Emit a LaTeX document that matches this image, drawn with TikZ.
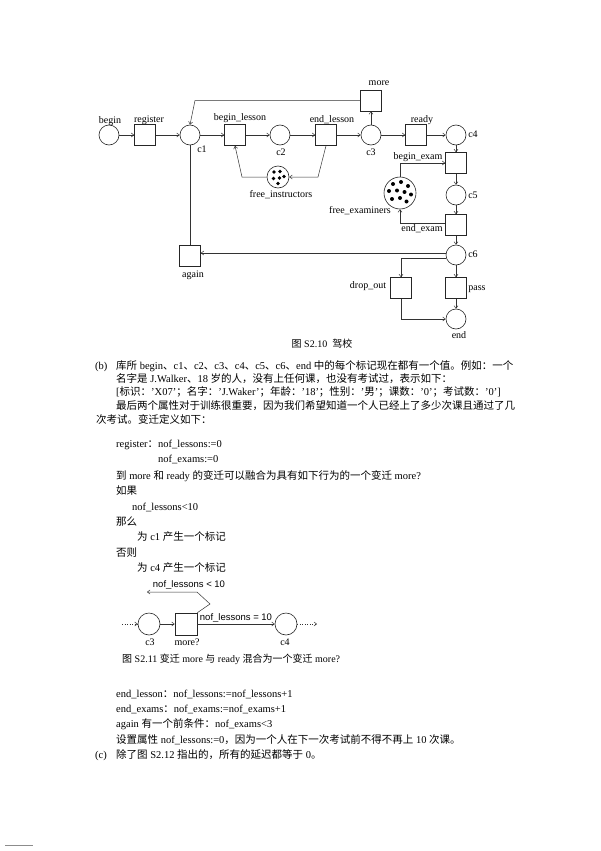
\documentclass[tikz,border=0pt]{standalone}
\usepackage{fontspec}
\setmainfont{Liberation Serif}
\setsansfont{Liberation Sans}
\newfontfamily\cjk{Noto Sans CJK SC}
\usetikzlibrary{arrows.meta,calc}
% Chinese runs are switched to the CJK family
\XeTeXinterchartokenstate=1
\newXeTeXintercharclass\cjkclass
\newcount\cjkcode
\def\cjkrange#1#2{\cjkcode=#1 \loop\XeTeXcharclass\cjkcode=\cjkclass \ifnum\cjkcode<#2 \advance\cjkcode by 1 \repeat}
\cjkrange{"3000}{"303F}
\cjkrange{"4E00}{"9FFF}
\cjkrange{"FF00}{"FFEF}
\XeTeXinterchartoks 0 \cjkclass = {\begingroup\cjk}
\XeTeXinterchartoks 4095 \cjkclass = {\begingroup\cjk}
\XeTeXinterchartoks \cjkclass 0 = {\endgroup}
\XeTeXinterchartoks \cjkclass 4095 = {\endgroup}
\begin{document}
\begin{tikzpicture}[x=1pt,y=-1pt,every node/.style={font=\fontsize{10}{12}\selectfont},
  place/.style={circle,draw=black!85,line width=.6pt,minimum size=20pt,inner sep=0pt},
  trans/.style={draw=black!85,line width=.6pt,minimum size=21pt,inner sep=0pt},
  arc/.style={-{Straight Barb[length=2.6pt,width=4pt]},line width=.5pt,draw=black!80},
  tok/.style={circle,fill=black,inner sep=0pt,minimum size=3.6pt},
  body/.style={anchor=west,inner sep=0pt,text height=9pt,text depth=2.5pt,font=\fontsize{10.5}{13}\selectfont},
  note/.style={font=\sffamily\fontsize{9.5}{11}\selectfont}]
  \path[fill=white] (0,0) rectangle (600,851);
  \useasboundingbox (0,0) rectangle (600,851);
  % Fig. S2.10
  \node[place] (begin) at (109,135) {}; \node[trans] (register) at (145,135) {};
  \node[place] (c1) at (190,135) {}; \node[trans] (begin_lesson) at (235,135) {};
  \node[place] (c2) at (280,135) {}; \node[trans] (end_lesson) at (326,135) {};
  \node[place] (c3) at (371,135) {}; \node[trans] (more) at (371,100.5) {};
  \node[trans] (ready) at (416,135) {}; \node[place] (c4) at (456,135) {};
  \node[trans] (begin_exam) at (456,163) {}; \node[place] (c5) at (456,195) {};
  \node[trans] (end_exam) at (456,225) {}; \node[place] (c6) at (456,255) {};
  \node[trans] (drop_out) at (401,288) {}; \node[trans] (pass) at (456,288) {};
  \node[place] (end) at (456,319) {}; \node[trans] (again) at (190,256) {};
  \node[place,minimum size=22pt] (free_instructors) at (278,177) {};
  \node[place,minimum size=32pt] (free_examiners) at (400,193) {};
  \foreach \dx/\dy in {-4/-5,2/-5.5,6/-.5,-4.5/1.5,1.5/1,0/6.5}
    \node[tok] at ($(free_instructors)+(\dx,\dy)$) {};
  \foreach \dx/\dy in {-7/-9,1/-11,8/-7,-11/-2,-3/-2.5,4.5/-1,11/1.5,-8/6,0/5,6.5/8.5}
    \node[tok,minimum size=4pt] at ($(free_examiners)+(\dx,\dy)$) {};
  \node (l_begin) at (110,121) {begin}; \node (l_register) at (149,120) {register};
  \node (l_c1) at (202,149) {c1}; \node (l_begin_lesson) at (240,118) {begin\_lesson};
  \node (l_c2) at (281,152) {c2}; \node (l_end_lesson) at (332,120) {end\_lesson};
  \node (l_c3) at (371,152) {c3}; \node (l_more) at (379,83) {more};
  \node (l_ready) at (422,120) {ready}; \node (l_c4) at (473,134) {c4};
  \node (l_begin_exam) at (418,157) {begin\_exam}; \node (l_c5) at (473,195) {c5};
  \node (l_free_instructors) at (281,195) {free\_instructors};
  \node (l_free_examiners) at (360,211) {free\_examiners};
  \node (l_end_exam) at (422,229) {end\_exam}; \node (l_c6) at (473,254) {c6};
  \node (l_again) at (193,275) {again}; \node (l_drop_out) at (368,286) {drop\_out};
  \node (l_pass) at (477,289) {pass}; \node (l_end) at (459,335) {end};
  \coordinate (mc) at (195,100.5);
  \coordinate (fi_r) at (318,177); \coordinate (fi_l) at (242,177);
  \draw[arc] (begin)--(register); \draw[arc] (register)--(c1);
  \draw[arc] (c1)--(begin_lesson); \draw[arc] (begin_lesson)--(c2);
  \draw[arc] (c2)--(end_lesson); \draw[arc] (end_lesson)--(c3);
  \draw[arc] (c3)--(ready); \draw[arc] (ready)--(c4); \draw[arc] (c3)--(more);
  \draw[arc] (more.west)--(mc)--(c1.north);
  \draw[arc] (end_lesson.south)--(fi_r)--(free_instructors.east);
  \draw[arc] (free_instructors.west)--(fi_l)--(begin_lesson.south);
  \draw[arc] (c4)--(begin_exam); \draw[arc] (begin_exam)--(c5);
  \draw[arc] (c5)--(end_exam); \draw[arc] (end_exam)--(c6);
  \draw[arc] (free_examiners.north) |- (begin_exam.west);
  \draw[arc] ([yshift=2pt]end_exam.west) -| (free_examiners.south);
  \draw[arc] ([yshift=2pt]c6.west)--([yshift=2pt]c6.west -| again.east);
  \draw[line width=.5pt,black!80] (again)--(c1);
  \draw[arc] ([yshift=-3pt]c6.west) -| (drop_out.north);
  \draw[arc] (drop_out.south) |- (end.west);
  \draw[arc] (c6)--(pass); \draw[arc] (pass)--(end);
  \node (cap10) at (322,344) {图 S2.10\ \ 驾校};
  % text (b)
  \node[body] (tb) at (95,366) {(b)};
  \node[body] (t1) at (116,366) {库所 begin、c1、c2、c3、c4、c5、c6、end 中的每个标记现在都有一个值。例如：一个};
  \node[body] (t2) at (116,379) {名字是 J.Walker、18 岁的人，没有上任何课，也没有考试过，表示如下：};
  \node[body] (t3) at (116,392) {[标识：'X07'；名字：'J.Waker'；年龄：'18'；性别：'男'；课数：'0'；考试数：'0']};
  \node[body] (t4) at (116,406) {最后两个属性对于训练很重要，因为我们希望知道一个人已经上了多少次课且通过了几};
  \node[body] (t5) at (96,420) {次考试。变迁定义如下：};
  \node[body] (t6) at (116,444) {register：nof\_lessons:=0};
  \node[body] (t7) at (158,459) {nof\_exams:=0};
  \node[body] (t8) at (116,476) {到 more 和 ready 的变迁可以融合为具有如下行为的一个变迁 more?};
  \node[body] (t9) at (116,491) {如果};
  \node[body] (t10) at (132,507) {nof\_lessons<10};
  \node[body] (t11) at (116,522) {那么};
  \node[body] (t12) at (137,537) {为 c1 产生一个标记};
  \node[body] (t13) at (116,553) {否则};
  \node[body] (t14) at (137,568) {为 c4 产生一个标记};
  % Fig. S2.11
  \node[place,minimum size=22pt] (c3b) at (149,624) {};
  \node[trans,minimum size=22pt] (moreq) at (186,624) {};
  \node[place,minimum size=22pt] (c4b) at (286,624) {};
  \coordinate (inb) at (122,624); \coordinate (outb) at (317,624);
  \coordinate (kb1) at (210,604); \coordinate (kb2) at (197,592); \coordinate (lessb) at (147,592);
  \draw[arc,dotted] (inb)--(c3b); \draw[arc,dotted] (c4b)--(outb);
  \draw[arc] (c3b)--(moreq);
  \draw[arc] (moreq)--(c4b) node[note,midway,above,inner sep=1.5pt] (eq10) {nof\_lessons = 10};
  \draw[arc] (moreq.north east)--(kb1)--(kb2)--(lessb);
  \node[note] (lt10) at (189,585) {nof\_lessons < 10};
  \node (l_c3b) at (150,642) {c3}; \node (l_moreq) at (187,642) {more?};
  \node (l_c4b) at (285,642) {c4};
  \node[anchor=west,inner sep=0pt] (cap11) at (122,659) {图 S2.11 变迁 more 与 ready 混合为一个变迁 more?};
  % rest of (b), (c)
  \node[body] (t15) at (116,694) {end\_lesson：nof\_lessons:=nof\_lessons+1};
  \node[body] (t16) at (116,709) {end\_exams：nof\_exams:=nof\_exams+1};
  \node[body] (t17) at (116,724) {again 有一个前条件：nof\_exams<3};
  \node[body] (t18) at (116,740) {设置属性 nof\_lessons:=0，因为一个人在下一次考试前不得不再上 10 次课。};
  \node[body] (tc) at (95,755) {(c)};
  \node[body] (t19) at (116,755) {除了图 S2.12 指出的，所有的延迟都等于 0。};
  \draw[black!45,line width=.8pt] (5,845)--(33,845);
\end{tikzpicture}
\end{document}
